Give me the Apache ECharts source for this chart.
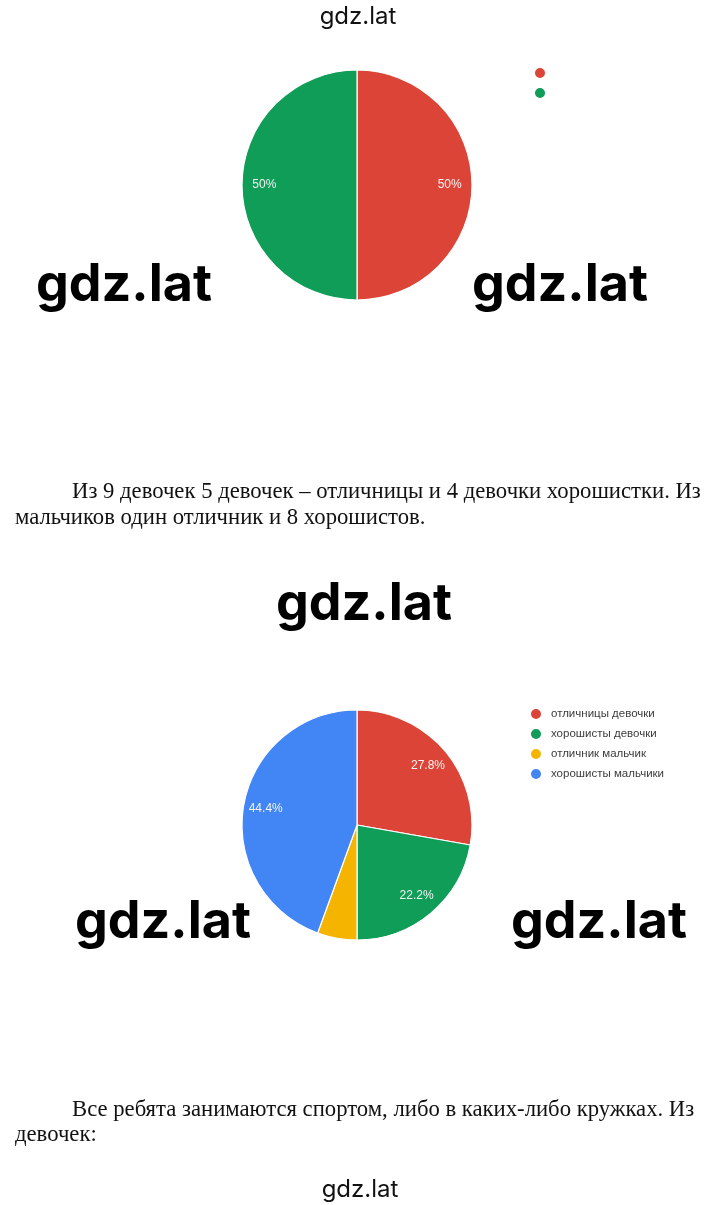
<!DOCTYPE html>
<html><head><meta charset="utf-8">
<script src="https://cdn.jsdelivr.net/npm/echarts@6/dist/echarts.min.js"></script>
<style>html,body{margin:0;padding:0;background:#fff}#c{width:720px;height:1205px}</style>
</head><body><div id="c"></div>
<script>
const pie1Names = ['девочки', 'мальчики'];
const pie1Values = [9, 9];
const pie2Names = ['отличницы девочки', 'хорошисты девочки', 'отличник мальчик', 'хорошисты мальчики'];
const pie2Values = [5, 4, 1, 8];
const colors = ['#DB4437', '#0F9D58', '#F4B400', '#4285F4'];
const paragraph1 = ['Из 9 девочек 5 девочек – отличницы и 4 девочки хорошистки. Из', 'мальчиков один отличник и 8 хорошистов.'];
const paragraph2 = ['Все ребята занимаются спортом, либо в каких-либо кружках. Из', 'девочек:'];
const watermark = 'gdz.lat';

const R = 115;
function pieSeries(names, values, center) {
  const data = names.map((n, i) => ({ name: n, value: values[i], itemStyle: { color: colors[i] } }));
  return [
    { type: 'pie', radius: [0, R], center: center, startAngle: 90, clockwise: true,
      data: data, silent: true, label: { show: false }, labelLine: { show: false },
      itemStyle: { borderColor: '#fff', borderWidth: 1.2 }, animation: false },
    { type: 'pie', radius: [R * 0.56, R], center: center, startAngle: 90, clockwise: true,
      data: data.map(d => ({ name: d.name, value: d.value, itemStyle: { color: 'rgba(0,0,0,0)' } })),
      silent: true, percentPrecision: 1, animation: false,
      label: { show: true, position: 'inner', color: '#f4f4f4', fontSize: 12, fontFamily: 'Liberation Sans',
        formatter: p => p.percent < 10 ? '' : p.percent + '%' },
      labelLine: { show: false }, legendHoverLink: false }
  ];
}

const chart = echarts.init(document.getElementById('c'), null, { renderer: 'canvas' });
const bigWm = (x, y) => ({ type: 'text', x: x, y: y, z: 100,
  style: { text: watermark, fill: '#000', font: 'bold 52px Inter', textAlign: 'center', textVerticalAlign: 'middle' } });
const smallWm = (x, y) => ({ type: 'text', x: x, y: y, z: 100,
  style: { text: watermark, fill: '#111', font: '24px Inter', textAlign: 'center', textVerticalAlign: 'middle' } });
const para = (x, y, t) => ({ type: 'text', x: x, y: y, z: 100,
  style: { text: t, fill: '#111', font: '22.7px "Liberation Serif"', textAlign: 'left', textVerticalAlign: 'middle' } });

chart.setOption({
  animation: false,
  legend: [
    { data: pie1Names, left: 533, top: 66, padding: 0, orient: 'vertical', icon: 'circle', itemWidth: 12, itemHeight: 12, itemGap: 6,
      formatter: () => '', selectedMode: false },
    { data: pie2Names, left: 529, top: 707, padding: 0, orient: 'vertical', icon: 'circle', itemWidth: 12, itemHeight: 12, itemGap: 6,
      selectedMode: false,
      textStyle: { color: '#3c3c3c', fontSize: 11.5, fontFamily: 'Liberation Sans', padding: [0, 0, 0, 4] } }
  ],
  series: [].concat(pieSeries(pie1Names, pie1Values, [357, 185]), pieSeries(pie2Names, pie2Values, [357, 825])),
  graphic: [
    smallWm(358, 17),
    bigWm(124, 285), bigWm(560, 285),
    para(72, 492, paragraph1[0]), para(15, 518, paragraph1[1]),
    bigWm(364, 604),
    bigWm(163, 922), bigWm(599, 922),
    para(72, 1110, paragraph2[0]), para(15, 1135, paragraph2[1]),
    smallWm(360, 1190)
  ]
});
</script></body></html>
